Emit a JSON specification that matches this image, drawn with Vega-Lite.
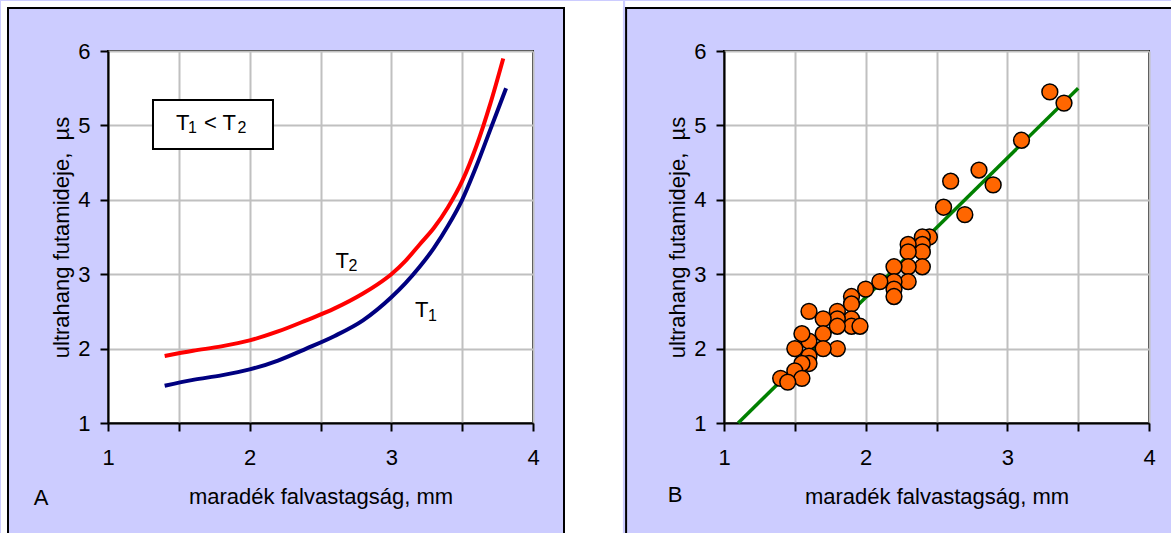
{
  "$schema": "https://vega.github.io/schema/vega-lite/v6.json",
  "background": "#CCCCFF",
  "padding": 0,
  "spacing": 0,
  "config": {
    "view": {"fill": "white", "stroke": "black", "strokeWidth": 2},
    "font": "Liberation Sans",
    "text": {"font": "Liberation Sans", "fontSize": 22, "color": "black", "align": "left", "baseline": "alphabetic"},
    "rect": {"clip": false},
    "axis": {
      "domainColor": "black", "domainWidth": 2,
      "tickColor": "black", "tickWidth": 2, "tickSize": 8,
      "grid": true, "gridColor": "#C0C0C0", "gridWidth": 2, "gridOpacity": 1,
      "labelFont": "Liberation Sans", "labelFontSize": 22, "labelColor": "black",
      "labelFlush": false, "labelOverlap": false,
      "titleFont": "Liberation Sans", "titleFontSize": 22, "titleFontWeight": "normal", "titleColor": "black"
    },
    "axisX": {"labelPadding": 16, "titlePadding": 18},
    "axisY": {"labelPadding": 10, "titlePadding": 4}
  },
  "datasets": {
    "curves": [
      {"x": 1.4, "y": 1.5, "s": "T1"}, {"x": 1.6, "y": 1.58, "s": "T1"}, {"x": 1.8, "y": 1.64, "s": "T1"},
      {"x": 2.0, "y": 1.72, "s": "T1"}, {"x": 2.2, "y": 1.84, "s": "T1"}, {"x": 2.4, "y": 2.0, "s": "T1"},
      {"x": 2.6, "y": 2.17, "s": "T1"}, {"x": 2.8, "y": 2.38, "s": "T1"}, {"x": 3.0, "y": 2.69, "s": "T1"},
      {"x": 3.1, "y": 2.88, "s": "T1"}, {"x": 3.2, "y": 3.1, "s": "T1"}, {"x": 3.3, "y": 3.35, "s": "T1"},
      {"x": 3.4, "y": 3.65, "s": "T1"}, {"x": 3.5, "y": 4.0, "s": "T1"}, {"x": 3.6, "y": 4.45, "s": "T1"},
      {"x": 3.7, "y": 4.95, "s": "T1"}, {"x": 3.81, "y": 5.5, "s": "T1"},
      {"x": 1.4, "y": 1.9, "s": "T2"}, {"x": 1.6, "y": 1.97, "s": "T2"}, {"x": 1.8, "y": 2.03, "s": "T2"},
      {"x": 2.0, "y": 2.11, "s": "T2"}, {"x": 2.2, "y": 2.23, "s": "T2"}, {"x": 2.4, "y": 2.38, "s": "T2"},
      {"x": 2.6, "y": 2.54, "s": "T2"}, {"x": 2.8, "y": 2.74, "s": "T2"}, {"x": 2.9, "y": 2.86, "s": "T2"},
      {"x": 3.0, "y": 3.0, "s": "T2"}, {"x": 3.1, "y": 3.18, "s": "T2"}, {"x": 3.2, "y": 3.4, "s": "T2"},
      {"x": 3.3, "y": 3.62, "s": "T2"}, {"x": 3.4, "y": 3.9, "s": "T2"}, {"x": 3.5, "y": 4.25, "s": "T2"},
      {"x": 3.6, "y": 4.72, "s": "T2"}, {"x": 3.7, "y": 5.3, "s": "T2"}, {"x": 3.79, "y": 5.9, "s": "T2"}
    ],
    "fit": [{"x": 1.1, "y": 1.0}, {"x": 3.5, "y": 5.5}],
    "points": [
      {"x": 3.3, "y": 5.45}, {"x": 3.4, "y": 5.3}, {"x": 3.1, "y": 4.8}, {"x": 2.8, "y": 4.4},
      {"x": 2.6, "y": 4.25}, {"x": 2.9, "y": 4.2}, {"x": 2.55, "y": 3.9}, {"x": 2.7, "y": 3.8},
      {"x": 2.45, "y": 3.5}, {"x": 2.4, "y": 3.5}, {"x": 2.4, "y": 3.4}, {"x": 2.4, "y": 3.3},
      {"x": 2.4, "y": 3.1}, {"x": 2.3, "y": 3.4}, {"x": 2.3, "y": 3.3}, {"x": 2.3, "y": 3.1},
      {"x": 2.3, "y": 2.9}, {"x": 2.2, "y": 3.1}, {"x": 2.2, "y": 2.9}, {"x": 2.2, "y": 2.8},
      {"x": 2.2, "y": 2.7}, {"x": 2.1, "y": 2.9}, {"x": 2.0, "y": 2.8}, {"x": 1.9, "y": 2.7},
      {"x": 1.9, "y": 2.6}, {"x": 1.9, "y": 2.4}, {"x": 1.9, "y": 2.3}, {"x": 1.96, "y": 2.3},
      {"x": 1.8, "y": 2.5}, {"x": 1.8, "y": 2.4}, {"x": 1.8, "y": 2.3}, {"x": 1.8, "y": 2.0},
      {"x": 1.7, "y": 2.4}, {"x": 1.7, "y": 2.2}, {"x": 1.7, "y": 2.0}, {"x": 1.6, "y": 2.5},
      {"x": 1.6, "y": 2.1}, {"x": 1.6, "y": 1.9}, {"x": 1.6, "y": 1.8}, {"x": 1.55, "y": 2.2},
      {"x": 1.5, "y": 2.0}, {"x": 1.55, "y": 1.8}, {"x": 1.5, "y": 1.7}, {"x": 1.55, "y": 1.6},
      {"x": 1.4, "y": 1.6}, {"x": 1.45, "y": 1.55}
    ]
  },
  "hconcat": [
    {
      "width": 425, "height": 372,
      "layer": [
        {
          "data": {"name": "curves"},
          "mark": {"type": "line", "strokeWidth": 4, "interpolate": "monotone"},
          "encoding": {
            "x": {"field": "x", "type": "quantitative", "scale": {"domain": [1, 4], "nice": false, "zero": false},
                  "axis": {"values": [1, 1.5, 2, 2.5, 3, 3.5, 4], "labelExpr": "datum.value % 1 === 0 ? format(datum.value, 'd') : ''", "title": "maradék falvastagság, mm"}},
            "y": {"field": "y", "type": "quantitative", "scale": {"domain": [1, 6], "nice": false, "zero": false},
                  "axis": {"values": [1, 1.5, 2, 2.5, 3, 3.5, 4, 4.5, 5, 5.5, 6], "labelExpr": "datum.value % 1 === 0 ? format(datum.value, 'd') : ''", "title": "ultrahang futamideje,\u00a0 µs"}},
            "color": {"field": "s", "type": "nominal", "scale": {"domain": ["T1", "T2"], "range": ["#000080", "#FF0000"]}, "legend": null}
          }
        },
        {
          "data": {"values": [{}]},
          "mark": {"type": "rect", "fill": "white", "stroke": "black", "strokeWidth": 2},
          "encoding": {"x": {"datum": 1.3176}, "x2": {"datum": 2.1647}, "y": {"datum": 5.3414}, "y2": {"datum": 4.6828}}
        },
        {"data": {"values": [{}]}, "mark": {"type": "text"},
         "encoding": {"x": {"datum": 1.48}, "y": {"datum": 4.9382}, "text": {"value": "T"}}},
        {"data": {"values": [{}]}, "mark": {"type": "text", "fontSize": 16},
         "encoding": {"x": {"datum": 1.5647}, "y": {"datum": 4.8978}, "text": {"value": "1"}}},
        {"data": {"values": [{}]}, "mark": {"type": "text"},
         "encoding": {"x": {"datum": 1.6776}, "y": {"datum": 4.9382}, "text": {"value": "<"}}},
        {"data": {"values": [{}]}, "mark": {"type": "text"},
         "encoding": {"x": {"datum": 1.8082}, "y": {"datum": 4.9382}, "text": {"value": "T"}}},
        {"data": {"values": [{}]}, "mark": {"type": "text", "fontSize": 16},
         "encoding": {"x": {"datum": 1.9141}, "y": {"datum": 4.8978}, "text": {"value": "2"}}},
        {"data": {"values": [{}]}, "mark": {"type": "text"},
         "encoding": {"x": {"datum": 2.6066}, "y": {"datum": 3.0833}, "text": {"value": "T"}}},
        {"data": {"values": [{}]}, "mark": {"type": "text", "fontSize": 16},
         "encoding": {"x": {"datum": 2.6976}, "y": {"datum": 3.043}, "text": {"value": "2"}}},
        {"data": {"values": [{}]}, "mark": {"type": "text"},
         "encoding": {"x": {"datum": 3.1671}, "y": {"datum": 2.4247}, "text": {"value": "T"}}},
        {"data": {"values": [{}]}, "mark": {"type": "text", "fontSize": 16},
         "encoding": {"x": {"datum": 3.2588}, "y": {"datum": 2.371}, "text": {"value": "1"}}},
        {
          "data": {"values": [{}]},
          "mark": {"type": "text", "align": "center", "baseline": "middle", "clip": false},
          "encoding": {"x": {"datum": 0.527059}, "y": {"datum": -0.008065}, "text": {"value": "A"}}
        },
        {"data": {"values": [{}]}, "mark": {"type": "rect", "fill": "white"},
         "encoding": {"x": {"datum": 0.244706}, "x2": {"datum": 0.287059}, "y": {"datum": 6.672043}, "y2": {"datum": -0.490591}}},
        {"data": {"values": [{}]}, "mark": {"type": "rect", "fill": "white"},
         "encoding": {"x": {"datum": 0.244706}, "x2": {"datum": 4.634588}, "y": {"datum": 6.672043}, "y2": {"datum": 6.591398}}},
        {"data": {"values": [{}]}, "mark": {"type": "rect", "fill": "white"},
         "encoding": {"x": {"datum": 4.225882}, "x2": {"datum": 4.634588}, "y": {"datum": 6.672043}, "y2": {"datum": -0.490591}}},
        {"data": {"values": [{}]}, "mark": {"type": "rect", "fill": "black"},
         "encoding": {"x": {"datum": 0.287059}, "x2": {"datum": 0.301176}, "y": {"datum": 6.591398}, "y2": {"datum": -0.490591}}},
        {"data": {"values": [{}]}, "mark": {"type": "rect", "fill": "black"},
         "encoding": {"x": {"datum": 4.211765}, "x2": {"datum": 4.225882}, "y": {"datum": 6.591398}, "y2": {"datum": -0.490591}}},
        {"data": {"values": [{}]}, "mark": {"type": "rect", "fill": "black"},
         "encoding": {"x": {"datum": 0.287059}, "x2": {"datum": 4.225882}, "y": {"datum": 6.591398}, "y2": {"datum": 6.564516}}}
      ]
    },
    {
      "width": 425, "height": 372,
      "layer": [
        {
          "data": {"name": "fit"},
          "mark": {"type": "line", "color": "#008000", "strokeWidth": 3.5},
          "encoding": {
            "x": {"field": "x", "type": "quantitative", "scale": {"domain": [1, 4], "nice": false, "zero": false},
                  "axis": {"values": [1, 1.5, 2, 2.5, 3, 3.5, 4], "labelExpr": "datum.value % 1 === 0 ? format(datum.value, 'd') : ''", "title": "maradék falvastagság, mm"}},
            "y": {"field": "y", "type": "quantitative", "scale": {"domain": [1, 6], "nice": false, "zero": false},
                  "axis": {"values": [1, 1.5, 2, 2.5, 3, 3.5, 4, 4.5, 5, 5.5, 6], "labelExpr": "datum.value % 1 === 0 ? format(datum.value, 'd') : ''", "title": "ultrahang futamideje,\u00a0 µs"}}
          }
        },
        {
          "data": {"name": "points"},
          "mark": {"type": "circle", "fill": "#FF6600", "stroke": "black", "strokeWidth": 1.5, "size": 250, "opacity": 1},
          "encoding": {"x": {"field": "x", "type": "quantitative"}, "y": {"field": "y", "type": "quantitative"}}
        },
        {
          "data": {"values": [{}]},
          "mark": {"type": "text", "align": "center", "baseline": "middle", "clip": false},
          "encoding": {"x": {"datum": 0.654118}, "y": {"datum": 0.032258}, "text": {"value": "B"}}
        },
        {"data": {"values": [{}]}, "mark": {"type": "rect", "fill": "white"},
         "encoding": {"x": {"datum": 0.301882}, "x2": {"datum": 4.175765}, "y": {"datum": 6.672043}, "y2": {"datum": 6.591398}}},
        {"data": {"values": [{}]}, "mark": {"type": "rect", "fill": "black"},
         "encoding": {"x": {"datum": 0.301882}, "x2": {"datum": 0.316}, "y": {"datum": 6.591398}, "y2": {"datum": -0.490591}}},
        {"data": {"values": [{}]}, "mark": {"type": "rect", "fill": "black"},
         "encoding": {"x": {"datum": 0.301882}, "x2": {"datum": 4.175765}, "y": {"datum": 6.591398}, "y2": {"datum": 6.564516}}}
      ]
    }
  ]
}
